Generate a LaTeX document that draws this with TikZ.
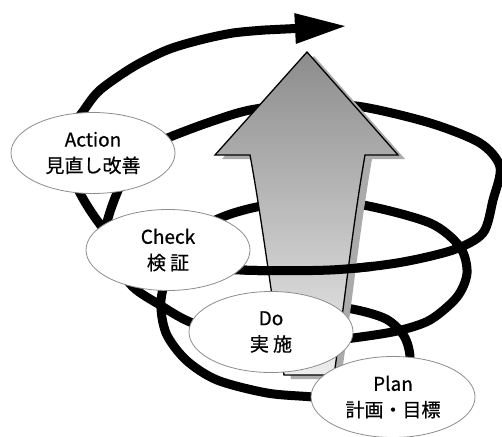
\documentclass[tikz,border=0pt]{standalone}
\usepackage{fontspec}
\setmainfont{Noto Sans CJK JP}[FakeBold=0.6]
\usepackage{tikz}
\usetikzlibrary{shapes}
\usetikzlibrary{positioning}
\usetikzlibrary{arrows.meta}
\tikzset{
    phase/.style={ellipse, draw=black!45, line width=0.8pt, fill=white,
        minimum width=164pt, minimum height=81pt, inner sep=0pt, align=center,
        font=\fontsize{19}{26}\selectfont},
    helix/.style={line width=9pt, black},
}
\begin{document}
\begin{tikzpicture}[x=1pt, y=-1pt]
    %
    \useasboundingbox (0,0) rectangle (502,436);
    %
    \def\helixline{plot[smooth] coordinates {
    (300,303) (352,309) (386,319) (404,336) (410,358)
    (404,385) (365,402) (313,397)
    (267,393) (217,380) (186,360) (166,333) (161,300)
    (172,262) (195,232) (225,216) (262,206)
    (310,202) (363,205) (430,223) (460,247) (467,273) (457,297) (430,320) (397,331) (353,338)
    (300,344) (240,338) (190,322) (160,305) (133,287)
    (112,258) (105,235) (109,215) (117,193)
    (128,170) (147,148) (170,137) (210,122) (250,110) (307,103) (363,107) (430,123)
    (480,143) (500,167) (493,200) (483,233) (453,250) (397,263) (330,270) (240,270)
    (170,263) (120,245) (99,223) (80,193)
    (68,160) (73,128) (84,110) (100,90) (133,67) (167,50) (200,40) (233,33) (265,30)
    }}
    \def\upshape{(307,52) -- (398,155) -- (365,155) .. controls (352,230) and (345,300) .. (334,375)
    -- (284,375) .. controls (272,300) and (262,220) .. (250,155) -- (215,155) -- cycle}
    %
    \draw[helix, -{Triangle[length=52pt, width=28pt]}] \helixline -- (347,26);
    %
    \fill[black!33, xshift=7pt, yshift=-4pt] \upshape;
    \draw[line width=1.3pt, top color=black!45, bottom color=black!7] \upshape;
    %
    \begin{scope}
    \clip (244,252) rectangle (372,292);
    \draw[helix] \helixline;
    \end{scope}
    %
    \node[phase] (action) at (93,153) {Action\\見直し改善};
    \node[phase] (check) at (168,250) {Check\\検 証};
    \node[phase] (do) at (271,332) {Do\\実 施};
    \node[phase] (plan) at (393,397) {Plan\\計画・目標};
\end{tikzpicture}
\end{document}
